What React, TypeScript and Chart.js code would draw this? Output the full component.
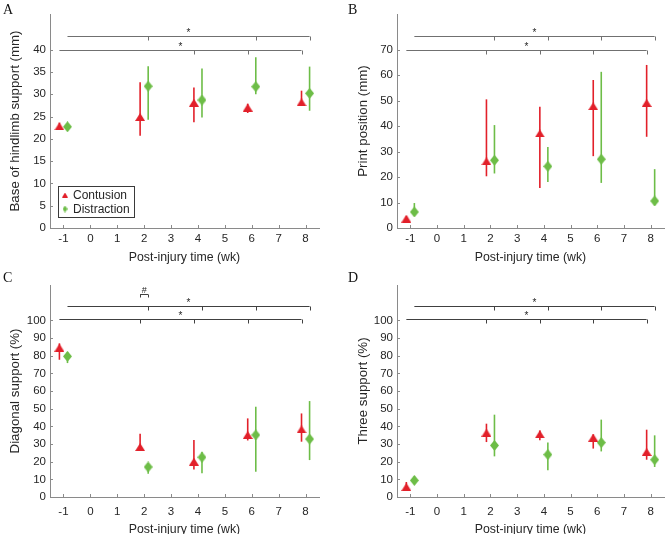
import React, { useEffect, useRef } from 'react';
import { Chart, registerables } from 'chart.js';

Chart.register(...registerables);

const FONT = "'Liberation Sans', Arial, Helvetica, sans-serif";
const SERIF = "'Liberation Serif', 'Times New Roman', serif";
const RED = '#e2202a';
const GREEN = '#6dbd47';
const AXIS = '#8a8a8a';
const TEXT = '#262626';

// ---------- shared data ----------
const weeks = [-1, 2, 4, 6, 8];
const xTickValues = [-1, 0, 1, 2, 3, 4, 5, 6, 7, 8];
const seriesNames = ['Contusion', 'Distraction'];
const xTitle = 'Post-injury time (wk)';
const sigUpperSpan = [-0.85, 8.15];
const sigLowerSpan = [-1.15, 7.85];

// ---------- panel A ----------
const aContusion = [22.8, 24.9, 28.1, 27.0, 28.2];
const aContusionLow = [22.2, 20.7, 23.7, 25.8, 27.5];
const aContusionHigh = [23.6, 32.7, 31.5, 27.9, 30.8];
const aDistraction = [22.7, 31.8, 28.7, 31.7, 30.2];
const aDistractionLow = [22.2, 24.3, 24.8, 30.0, 26.3];
const aDistractionHigh = [23.3, 36.3, 35.8, 38.3, 36.2];
const aYTicks = [0, 5, 10, 15, 20, 25, 30, 35, 40];
const aSigLevels = [43.1, 40];
const aSigUpperTicks = [2.15, 6.15, 8.15];
const aSigLowerTicks = [3.85, 5.85, 7.85];

// ---------- panel B ----------
const bContusion = [3.7, 26.2, 37.1, 47.8, 49.1];
const bContusionLow = [2.6, 20.3, 15.7, 28.2, 35.8];
const bContusionHigh = [4.6, 50.5, 47.6, 58.1, 64.0];
const bDistraction = [6.3, 26.6, 24.2, 27.0, 10.6];
const bDistractionLow = [5.0, 21.4, 18.1, 17.7, 8.9];
const bDistractionHigh = [9.8, 40.4, 31.8, 61.3, 23.1];
const bYTicks = [0, 10, 20, 30, 40, 50, 60, 70];
const bSigLevels = [75.4, 70];
const bSigUpperTicks = [2.15, 4.15, 6.15, 8.15];
const bSigLowerTicks = [1.85, 3.85, 5.85, 7.85];

// ---------- panel C ----------
const cContusion = [84.5, 28.3, 20.0, 35.1, 38.3];
const cContusionLow = [77.7, 26.0, 15.6, 32.0, 31.3];
const cContusionHigh = [87.0, 35.8, 32.3, 44.5, 47.3];
const cDistraction = [79.6, 17.0, 22.5, 35.1, 32.8];
const cDistractionLow = [75.8, 13.2, 13.4, 14.3, 20.9];
const cDistractionHigh = [82.0, 18.9, 25.6, 51.1, 54.3];
const cYTicks = [0, 10, 20, 30, 40, 50, 60, 70, 80, 90, 100];
const cSigLevels = [108, 100.5];
const cSigUpperTicks = [2.15, 4.15, 6.15, 8.15];
const cSigLowerTicks = [1.85, 3.85, 5.85, 7.85];
const cHashSpan = [1.85, 2.15];
const cHashLevel = 114.8;

// ---------- panel D ----------
const dContusion = [5.7, 36.4, 35.5, 33.6, 25.5];
const dContusionLow = [3.4, 31.1, 32.1, 27.4, 21.1];
const dContusionHigh = [8.5, 41.5, 37.7, 35.5, 38.1];
const dDistraction = [9.4, 29.2, 24.0, 30.8, 21.1];
const dDistractionLow = [7.5, 23.0, 15.1, 25.8, 17.0];
const dDistractionHigh = [11.7, 46.6, 30.8, 43.8, 34.9];
const dYTicks = [0, 10, 20, 30, 40, 50, 60, 70, 80, 90, 100];
const dSigLevels = [108, 100.5];
const dSigUpperTicks = [2.15, 4.15, 6.15, 8.15];
const dSigLowerTicks = [1.85, 3.85, 5.85, 7.85];

const GROUP_OFFSET = 0.15;

type SigBar = { y: number; x1: number; x2: number; ticks: number[]; label: string; tickLen: number };
type PanelCfg = {
  letter: string;
  x: number; y: number; w: number; h: number;
  area: { left: number; top: number; right: number; bottom: number };
  yMax: number; yTicks: number[]; yTitle: string;
  con: number[]; conLow: number[]; conHigh: number[];
  dis: number[]; disLow: number[]; disHigh: number[];
  sig: SigBar[];
  legend: boolean;
  yTitlePad: number; xTickPad: number; xTitlePad: number;
  letterPos: [number, number];
  sigColor: string;
};

function sigBars(levels: number[], upperTicks: number[], lowerTicks: number[]): SigBar[] {
  return [
    { y: levels[0], x1: sigUpperSpan[0], x2: sigUpperSpan[1], ticks: upperTicks, label: '*', tickLen: 4 },
    { y: levels[1], x1: sigLowerSpan[0], x2: sigLowerSpan[1], ticks: lowerTicks, label: '*', tickLen: 4 },
  ];
}

const panels: PanelCfg[] = [
  {
    letter: 'A', x: 0, y: 0, w: 335, h: 267,
    area: { left: 50, top: 14, right: 319, bottom: 228 },
    yMax: 48, yTicks: aYTicks, yTitle: 'Base of hindlimb support (mm)',
    con: aContusion, conLow: aContusionLow, conHigh: aContusionHigh,
    dis: aDistraction, disLow: aDistractionLow, disHigh: aDistractionHigh,
    sig: sigBars(aSigLevels, aSigUpperTicks, aSigLowerTicks),
    legend: true, yTitlePad: 7, xTickPad: 4, xTitlePad: 2, letterPos: [3, 14], sigColor: '#707070',
  },
  {
    letter: 'B', x: 335, y: 0, w: 334, h: 267,
    area: { left: 62, top: 14, right: 332, bottom: 228 },
    yMax: 84, yTicks: bYTicks, yTitle: 'Print position (mm)',
    con: bContusion, conLow: bContusionLow, conHigh: bContusionHigh,
    dis: bDistraction, disLow: bDistractionLow, disHigh: bDistractionHigh,
    sig: sigBars(bSigLevels, bSigUpperTicks, bSigLowerTicks),
    legend: false, yTitlePad: 20.5, xTickPad: 4, xTitlePad: 2, letterPos: [13, 14], sigColor: '#707070',
  },
  {
    letter: 'C', x: 0, y: 267, w: 335, h: 280,
    area: { left: 50, top: 18, right: 319, bottom: 230 },
    yMax: 120, yTicks: cYTicks, yTitle: 'Diagonal support (%)',
    con: cContusion, conLow: cContusionLow, conHigh: cContusionHigh,
    dis: cDistraction, disLow: cDistractionLow, disHigh: cDistractionHigh,
    sig: [
      ...sigBars(cSigLevels, cSigUpperTicks, cSigLowerTicks),
      { y: cHashLevel, x1: cHashSpan[0], x2: cHashSpan[1], ticks: cHashSpan, label: '#', tickLen: 3 },
    ],
    legend: false, yTitlePad: 7, xTickPad: 8, xTitlePad: 9.6, letterPos: [3, 15], sigColor: '#404040',
  },
  {
    letter: 'D', x: 335, y: 267, w: 334, h: 280,
    area: { left: 62, top: 18, right: 332, bottom: 230 },
    yMax: 120, yTicks: dYTicks, yTitle: 'Three support (%)',
    con: dContusion, conLow: dContusionLow, conHigh: dContusionHigh,
    dis: dDistraction, disLow: dDistractionLow, disHigh: dDistractionHigh,
    sig: sigBars(dSigLevels, dSigUpperTicks, dSigLowerTicks),
    legend: false, yTitlePad: 20, xTickPad: 8, xTitlePad: 9.6, letterPos: [13, 15], sigColor: '#404040',
  },
];

function makeMarker(kind: 'tri' | 'dia', w: number, h: number, color: string): HTMLCanvasElement {
  const c = document.createElement('canvas');
  c.width = w;
  c.height = h;
  const g = c.getContext('2d')!;
  g.fillStyle = color;
  g.beginPath();
  if (kind === 'tri') {
    g.moveTo(w / 2, 0);
    g.lineTo(w, h);
    g.lineTo(0, h);
  } else {
    g.moveTo(w / 2, 0);
    g.lineTo(w, h / 2);
    g.lineTo(w / 2, h);
    g.lineTo(0, h / 2);
  }
  g.closePath();
  g.fill();
  return c;
}

function PanelChart({ p }: { p: PanelCfg }) {
  const ref = useRef<HTMLCanvasElement>(null);

  useEffect(() => {
    const canvas = ref.current;
    if (!canvas) return;
    const triImg = makeMarker('tri', 10, 8, RED);
    const diaImg = makeMarker('dia', 9, 11, GREEN);
    const triSmall = makeMarker('tri', 6, 5, RED);
    const diaSmall = makeMarker('dia', 5, 7, GREEN);
    const lows = [p.conLow, p.disLow];
    const highs = [p.conHigh, p.disHigh];
    const colors = [RED, GREEN];

    const extras = {
      id: 'extras',
      beforeDatasetsDraw(chart: any) {
        const ctx = chart.ctx as CanvasRenderingContext2D;
        const xs = chart.scales.x;
        const ys = chart.scales.y;
        ctx.save();
        chart.data.datasets.forEach((ds: any, di: number) => {
          ctx.strokeStyle = colors[di];
          ctx.lineWidth = 1.6;
          ds.data.forEach((pt: any, i: number) => {
            const px = xs.getPixelForValue(pt.x);
            ctx.beginPath();
            ctx.moveTo(px, ys.getPixelForValue(lows[di][i]));
            ctx.lineTo(px, ys.getPixelForValue(highs[di][i]));
            ctx.stroke();
          });
        });
        ctx.restore();
      },
      afterDraw(chart: any) {
        const ctx = chart.ctx as CanvasRenderingContext2D;
        const xs = chart.scales.x;
        const ys = chart.scales.y;
        const ca = chart.chartArea;
        ctx.save();
        // inward tick marks
        ctx.strokeStyle = AXIS;
        ctx.lineWidth = 1;
        ctx.beginPath();
        ys.ticks.forEach((t: any) => {
          const py = Math.round(ys.getPixelForValue(t.value)) + 0.5;
          ctx.moveTo(ca.left, py);
          ctx.lineTo(ca.left + 3, py);
        });
        xs.ticks.forEach((t: any) => {
          const px = Math.round(xs.getPixelForValue(t.value)) + 0.5;
          ctx.moveTo(px, ca.bottom);
          ctx.lineTo(px, ca.bottom - 3);
        });
        ctx.stroke();

        // significance bars
        ctx.strokeStyle = p.sigColor;
        ctx.fillStyle = TEXT;
        ctx.lineWidth = 1;
        ctx.textAlign = 'center';
        ctx.textBaseline = 'alphabetic';
        p.sig.forEach((bar) => {
          const py = Math.round(ys.getPixelForValue(bar.y)) + 0.5;
          const px1 = xs.getPixelForValue(bar.x1);
          const px2 = xs.getPixelForValue(bar.x2);
          ctx.beginPath();
          ctx.moveTo(px1, py);
          ctx.lineTo(px2, py);
          bar.ticks.forEach((t) => {
            const tx = Math.round(xs.getPixelForValue(t)) + 0.5;
            ctx.moveTo(tx, py);
            ctx.lineTo(tx, py + bar.tickLen);
          });
          ctx.stroke();
          ctx.font = `${bar.label === '#' ? 9 : 10}px ${FONT}`;
          ctx.fillText(bar.label, (px1 + px2) / 2, py - (bar.label === '#' ? 2 : 0.5));
        });

        // legend
        if (p.legend) {
          ctx.font = `12px ${FONT}`;
          const left = ca.left + 8;
          const top = ca.bottom - 42;
          const textX = left + 15;
          const tw = Math.max(...seriesNames.map((s) => ctx.measureText(s).width));
          const right = textX + tw + 4;
          ctx.fillStyle = '#ffffff';
          ctx.fillRect(left, top, right - left, 31);
          ctx.strokeStyle = '#3a3a3a';
          ctx.lineWidth = 1;
          ctx.strokeRect(Math.round(left) + 0.5, Math.round(top) + 0.5, Math.round(right - left), 31);
          const imgs = [triSmall, diaSmall];
          seriesNames.forEach((name, i) => {
            const cy = top + 9 + i * 14;
            const img = imgs[i];
            ctx.drawImage(img, left + 7 - img.width / 2, cy - img.height / 2);
            ctx.fillStyle = TEXT;
            ctx.textAlign = 'left';
            ctx.textBaseline = 'middle';
            ctx.fillText(name, textX, cy + 0.5);
          });
        }

        // panel letter
        ctx.fillStyle = '#111';
        ctx.font = `14px ${SERIF}`;
        ctx.textAlign = 'left';
        ctx.textBaseline = 'alphabetic';
        ctx.fillText(p.letter, p.letterPos[0], p.letterPos[1]);
        ctx.restore();
      },
    };

    const chart = new Chart(canvas, {
      type: 'scatter',
      data: {
        datasets: [
          {
            label: seriesNames[0],
            data: weeks.map((w, i) => ({ x: w - GROUP_OFFSET, y: p.con[i] })),
            pointStyle: triImg as any,
            backgroundColor: RED,
            borderColor: RED,
          },
          {
            label: seriesNames[1],
            data: weeks.map((w, i) => ({ x: w + GROUP_OFFSET, y: p.dis[i] })),
            pointStyle: diaImg as any,
            backgroundColor: GREEN,
            borderColor: GREEN,
          },
        ],
      },
      options: {
        animation: false,
        responsive: false,
        maintainAspectRatio: false,
        events: [],
        layout: {
          padding: { left: 0, top: p.area.top, right: p.w - p.area.right, bottom: 0 },
        },
        plugins: {
          legend: { display: false },
          tooltip: { enabled: false },
          title: { display: false },
        },
        scales: {
          x: {
            type: 'linear',
            min: -1.5,
            max: 8.5,
            afterBuildTicks: (s: any) => {
              s.ticks = xTickValues.map((v) => ({ value: v }));
            },
            afterFit: (s: any) => {
              s.height = p.h - p.area.bottom;
            },
            grid: { display: false, drawTicks: false },
            border: { display: true, color: AXIS, width: 1 },
            ticks: {
              padding: p.xTickPad,
              color: TEXT,
              font: { family: FONT, size: 11.5 },
              maxRotation: 0,
              autoSkip: false,
            },
            title: {
              display: true,
              text: xTitle,
              color: TEXT,
              font: { family: FONT, size: 12.3 },
              padding: { top: 0, bottom: p.xTitlePad },
            },
          },
          y: {
            type: 'linear',
            min: 0,
            max: p.yMax,
            afterBuildTicks: (s: any) => {
              s.ticks = p.yTicks.map((v) => ({ value: v }));
            },
            afterFit: (s: any) => {
              s.width = p.area.left;
            },
            grid: { display: false, drawTicks: false },
            border: { display: true, color: AXIS, width: 1 },
            ticks: {
              padding: 4,
              color: TEXT,
              font: { family: FONT, size: 11.5 },
              autoSkip: false,
            },
            title: {
              display: true,
              text: p.yTitle,
              color: TEXT,
              font: { family: FONT, size: 13.3 },
              padding: { top: p.yTitlePad, bottom: 0 },
            },
          },
        },
      } as any,
      plugins: [extras],
    });
    return () => chart.destroy();
  }, [p]);

  return (
    <canvas
      ref={ref}
      width={p.w}
      height={p.h}
      style={{ position: 'absolute', left: p.x, top: p.y, width: p.w, height: p.h }}
    />
  );
}

export default function App() {
  return (
    <div
      style={{
        position: 'absolute',
        left: 0,
        top: 0,
        width: 669,
        height: 534,
        overflow: 'hidden',
        background: '#ffffff',
      }}
    >
      {panels.map((p) => (
        <PanelChart key={p.letter} p={p} />
      ))}
    </div>
  );
}
